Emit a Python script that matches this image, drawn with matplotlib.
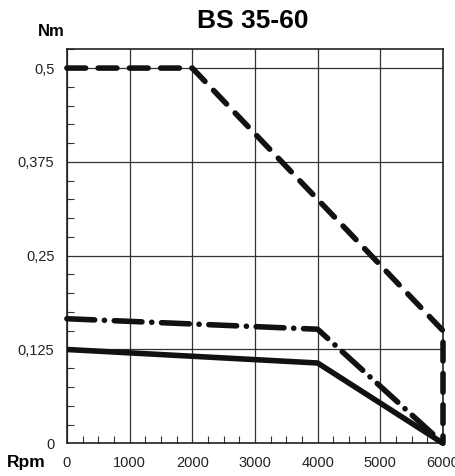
import numpy as np
import matplotlib.pyplot as plt
from matplotlib.ticker import MultipleLocator

plt.rcParams['font.family'] = ['Liberation Sans', 'DejaVu Sans']
plt.rcParams['lines.scale_dashes'] = False

# speed (rpm) / torque (Nm) curves
rpm_peak = [0, 2000, 6000, 6000]
nm_peak = [0.5, 0.5, 0.15, 0.0]
rpm_mid = [0, 4000, 6000]
nm_mid = [0.166, 0.152, 0.0]
rpm_cont = [0, 4000, 6000]
nm_cont = [0.125, 0.107, 0.0]

xticks = [0, 1000, 2000, 3000, 4000, 5000, 6000]
yticks = [0, 0.125, 0.25, 0.375, 0.5]
ylabels = ["0", "0,125", "0,25", "0,375", "0,5"]

fig = plt.figure(figsize=(4.56, 4.76), dpi=100)
ax = fig.add_axes([0.1467, 0.0687, 0.8248, 0.8277])

ax.plot(rpm_peak, nm_peak, color='#111111', lw=4, dashes=(13.5, 9),
        dash_capstyle='round', solid_joinstyle='round', zorder=3, clip_on=False)
ax.plot(rpm_mid, nm_mid, color='#111111', lw=4, dashes=(20, 7, 0.1, 7),
        dash_capstyle='round', zorder=3, clip_on=False)
ax.plot(rpm_cont, nm_cont, color='#111111', lw=4, solid_capstyle='butt',
        solid_joinstyle='round', zorder=3, clip_on=False)

ax.set_xlim(0, 6000)
ax.set_ylim(0, 0.525)
ax.set_xticks(xticks)
ax.set_xticklabels([str(x) for x in xticks])
ax.set_yticks(yticks)
ax.set_yticklabels(ylabels)
ax.xaxis.set_minor_locator(MultipleLocator(250))
ax.yaxis.set_minor_locator(MultipleLocator(0.025))
ax.tick_params(which='major', length=0, pad=9, labelsize=10.5, colors='#222222')
ax.tick_params(which='minor', direction='in', length=5, width=0.8, color='#333333')
ax.grid(True, which='major', color='#333333', lw=0.9)
for s in ax.spines.values():
    s.set_linewidth(1.2)
    s.set_color('#222222')

fig.text(0.555, 0.955, "BS 35-60", ha='center', va='center', fontsize=19, fontweight='bold')
fig.text(0.112, 0.933, "Nm", ha='center', va='center', fontsize=12, fontweight='bold')
fig.text(0.057, 0.028, "Rpm", ha='center', va='center', fontsize=12.5, fontweight='bold')

fig.savefig("out.png", dpi=100)
